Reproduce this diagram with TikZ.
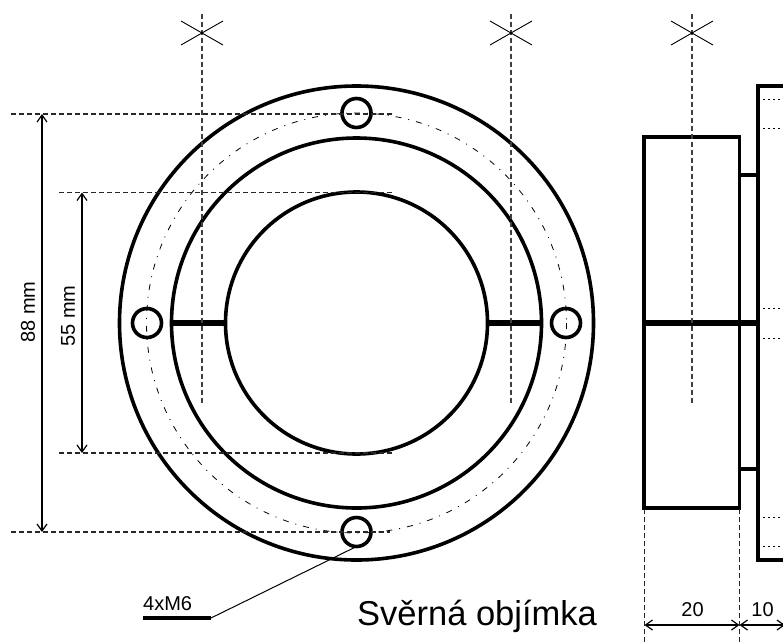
\documentclass[tikz,border=0pt]{standalone}
\usepackage{fontspec}
\setmainfont{Liberation Sans}
\usetikzlibrary{arrows.meta}

\begin{document}
\begin{tikzpicture}[x = 1pt, y = -1pt]
\tikzstyle{RingStyle}=[shape = circle,
                         inner sep = 0pt,
                         outer sep = 0pt,
                         line width = 3.6pt,
                         draw]
\tikzstyle{HoleStyle}=[RingStyle, minimum size = 29 pt]
\tikzstyle{AxisStyle}=[line width = 1.1pt, black!75, dash pattern = on 5pt off 3pt]
\tikzstyle{ExtStyle}=[line width = 1.1pt, black!85, dash pattern = on 5pt off 3pt]
\tikzstyle{DimStyle}=[line width = 1.2pt, {Straight Barb[length = 7pt, width = 10pt]}-{Straight Barb[length = 7pt, width = 10pt]}]
\tikzstyle{BodyStyle}=[line width = 3.6pt, line join = miter]
\tikzstyle{SlitStyle}=[line width = 6.5pt]
\tikzstyle{LabelStyle}=[inner sep = 0pt, font = \fontsize{20}{21}\selectfont]
\useasboundingbox (0, 0) rectangle (783, 643);
% front view
\draw[line width = 0.8pt, dash pattern = on 6pt off 7pt on 1pt off 7pt] (356.5, 323) circle (210);
\node[RingStyle, minimum size = 474 pt] (outer) at (356.5, 323) {};
\node[RingStyle, minimum size = 370 pt] (middle) at (356.5, 323) {};
\node[RingStyle, minimum size = 262 pt] (inner) at (356.5, 323) {};
\node[HoleStyle] (holeT) at (356.5, 113) {};
\node[HoleStyle] (holeB) at (356.5, 532) {};
\node[HoleStyle] (holeL) at (147, 323) {};
\node[HoleStyle] (holeR) at (566, 323) {};
\draw[SlitStyle] (middle.west) -- (inner.west);
\draw[SlitStyle] (inner.east) -- (middle.east);
% side view
\coordinate (sA) at (644, 137);
\coordinate (sB) at (739.5, 137);
\coordinate (sC) at (739.5, 508);
\coordinate (sD) at (644, 508);
\coordinate (hA) at (739.5, 175);
\coordinate (hB) at (758, 175);
\coordinate (hC) at (739.5, 469);
\coordinate (hD) at (758, 469);
\coordinate (fA) at (790, 86);
\coordinate (fB) at (758, 86);
\coordinate (fC) at (758, 560);
\coordinate (fD) at (790, 560);
\coordinate (mA) at (644, 323);
\coordinate (mB) at (758, 323);
\draw[BodyStyle] (sA) -- (sB) -- (sC) -- (sD) -- cycle;
\draw[BodyStyle] (hA) -- (hB);
\draw[BodyStyle] (hC) -- (hD);
\draw[BodyStyle] (fA) -- (fB) -- (fC) -- (fD);
\draw[SlitStyle] (mA) -- (mB);
\foreach \yy in {99, 128, 308, 338, 517, 546} {
  \coordinate (dA\yy) at (763, \yy);
  \coordinate (dB\yy) at (790, \yy);
  \draw[line width = 1pt, dash pattern = on 2pt off 3pt] (dA\yy) -- (dB\yy);
}
% axes
\foreach \xx in {202, 511, 692} {
  \coordinate (aT\xx) at (\xx, 14);
  \coordinate (aB\xx) at (\xx, 404);
  \coordinate (cA\xx) at (\xx - 21, 21);
  \coordinate (cB\xx) at (\xx + 21, 45);
  \coordinate (cC\xx) at (\xx - 21, 45);
  \coordinate (cD\xx) at (\xx + 21, 21);
  \draw[AxisStyle] (aT\xx) -- (aB\xx);
  \draw[line width = 0.9pt] (cA\xx) -- (cB\xx);
  \draw[line width = 0.9pt] (cC\xx) -- (cD\xx);
}
% dimensions
\coordinate (e1a) at (11, 114);
\coordinate (e1b) at (392, 114);
\coordinate (e2a) at (59, 192.5);
\coordinate (e2b) at (392, 192.5);
\coordinate (e3a) at (59, 453);
\coordinate (e3b) at (392, 453);
\coordinate (e4a) at (11, 532);
\coordinate (e4b) at (390, 532);
\coordinate (e5a) at (644.5, 509);
\coordinate (e5b) at (644.5, 643);
\coordinate (e6a) at (739.5, 509);
\coordinate (e6b) at (739.5, 643);
\draw[ExtStyle] (e1a) -- (e1b);
\draw[ExtStyle] (e2a) -- (e2b);
\draw[ExtStyle] (e3a) -- (e3b);
\draw[ExtStyle] (e4a) -- (e4b);
\draw[ExtStyle] (e5a) -- (e5b);
\draw[ExtStyle] (e6a) -- (e6b);
\coordinate (d88a) at (42, 114);
\coordinate (d88b) at (42, 532);
\coordinate (d55a) at (82, 192.5);
\coordinate (d55b) at (82, 453);
\coordinate (d20a) at (644.5, 625);
\coordinate (d20b) at (739.5, 625);
\coordinate (d10b) at (785, 625);
\draw[DimStyle] (d88a) -- (d88b);
\draw[DimStyle] (d55a) -- (d55b);
\draw[DimStyle] (d20a) -- (d20b);
\draw[DimStyle] (d20b) -- (d10b);
\node[LabelStyle, rotate = 90] (l88) at (28, 312) {88 mm};
\node[LabelStyle, rotate = 90] (l55) at (68, 316) {55 mm};
\node[LabelStyle] (l20) at (692.5, 610) {20};
\node[LabelStyle] (l10) at (762.5, 610) {10};
% note and title
\node[LabelStyle, anchor = west] (note) at (143, 604) {4xM6};
\coordinate (nA) at (143, 618);
\coordinate (nB) at (211, 618);
\draw[BodyStyle] (nA) -- (nB);
\draw[line width = 1pt] (nB) -- (holeB.south);
\node[inner sep = 0pt, anchor = west, font = \fontsize{34.5}{36}\selectfont] (title) at (357, 616) {Svěrná objímka};
\end{tikzpicture}
\end{document}
